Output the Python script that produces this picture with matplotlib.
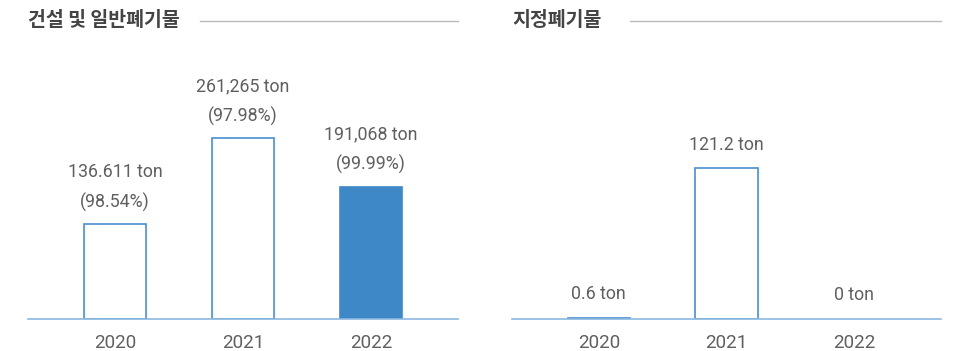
import matplotlib
matplotlib.use("Agg")
import matplotlib.pyplot as plt
from matplotlib.lines import Line2D

years = ["2020", "2021", "2022"]
general_values = [136611, 261265, 191068]
general_labels = ["136.611 ton\n(98.54%)", "261,265 ton\n(97.98%)", "191,068 ton\n(99.99%)"]
designated_values = [0.6, 121.2, 0]
designated_labels = ["0.6 ton", "121.2 ton", "0 ton"]
titles = ["건설 및 일반폐기물", "지정폐기물"]

W, H = 956, 351
fig = plt.figure(figsize=(W / 100, H / 100), dpi=100)
fig.patch.set_facecolor("white")

edge = "#4a8fd0"
fill = "#3f88c8"
base = "#8bb8e0"
txt = "#5f5f5f"
num_font = ["Roboto", "DejaVu Sans"]
kr_font = ["Noto Sans CJK KR", "DejaVu Sans"]

def px(x0, y0, x1, y1):
    return [x0 / W, 1 - y1 / H, (x1 - x0) / W, (y1 - y0) / H]

panels = [
    dict(rect=px(28, 60, 458, 319), vals=general_values, labels=general_labels,
         ymax=261265 * 259 / 181, filled=[False, False, True],
         title=titles[0], tx=28, lx=(200, 458)),
    dict(rect=px(512, 60, 941, 319), vals=designated_values, labels=designated_labels,
         ymax=121.2 * 259 / 151, filled=[False, False, False],
         title=titles[1], tx=512, lx=(630, 941)),
]

lab_kw = dict(ha="center", va="center", fontsize=12.8, color=txt, family=num_font,
              fontweight="normal", textcoords="offset pixels")

for p in panels:
    ax = fig.add_axes(p["rect"])
    xs = range(len(years))
    for i, v in enumerate(p["vals"]):
        if p["filled"][i]:
            ax.bar(i, v, width=0.49, color=fill, edgecolor=fill, linewidth=1.2, zorder=2)
        elif v > 0:
            ax.bar(i, v, width=0.49, facecolor="white", edgecolor=edge, linewidth=1.2, zorder=2)
        if "\n" in p["labels"][i]:
            l1, l2 = p["labels"][i].split("\n")
            ax.annotate(l2, (i, v), xytext=(0, 22), **lab_kw)
            ax.annotate(l1, (i, v), xytext=(0, 52), **lab_kw)
        else:
            off = 23 if v > 1 else 24
            ax.annotate(p["labels"][i], (i, v), xytext=(0, off), **lab_kw)
    ax.set_xlim(-0.68, 2.68)
    ax.set_ylim(0, p["ymax"])
    ax.set_xticks(list(xs))
    ax.set_xticklabels(years, fontsize=13.5, color=txt, family=num_font, fontweight="normal")
    ax.tick_params(axis="x", length=0, pad=11)
    ax.set_yticks([])
    for s in ["top", "right", "left"]:
        ax.spines[s].set_visible(False)
    ax.spines["bottom"].set_color(base)
    ax.spines["bottom"].set_linewidth(1.2)
    ax.spines["bottom"].set_zorder(3)
    ax.patch.set_alpha(0)

    fig.text(p["tx"] / W, 1 - 21 / H, p["title"], ha="left", va="center",
             fontsize=14, fontweight="bold", color="#444444", family=kr_font)
    fig.add_artist(Line2D([p["lx"][0] / W, p["lx"][1] / W], [1 - 21 / H, 1 - 21 / H],
                          color="#bbbbbb", linewidth=1.0))

fig.savefig("out.png", dpi=100, facecolor="white")
